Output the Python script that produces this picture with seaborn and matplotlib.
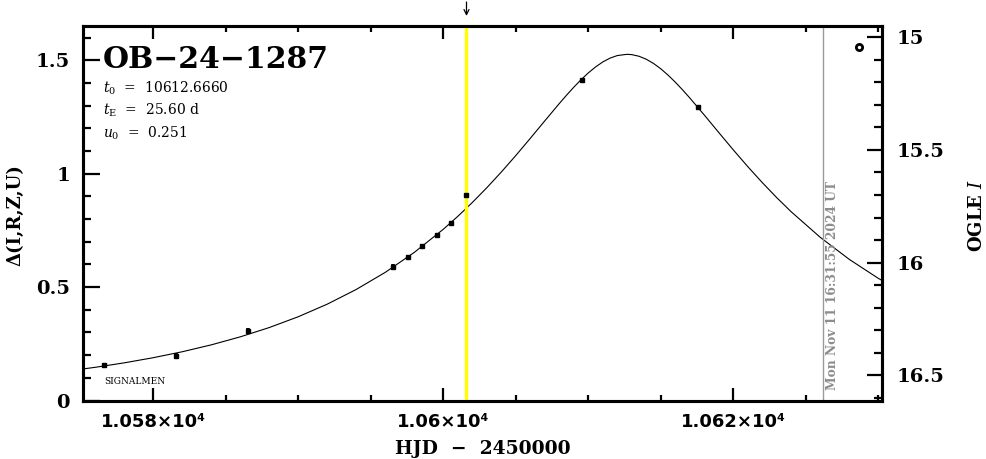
import matplotlib
matplotlib.use('Agg')
import matplotlib.pyplot as plt
import matplotlib.transforms as mtransforms
from matplotlib.ticker import MultipleLocator, FuncFormatter
import seaborn as sns

# ── Data ──────────────────────────────────────────────────────────────────────
EVENT     = "OB−24−1287"
T0_TEXT   = "10612.6660"
TE_TEXT   = "25.60 d"
U0_TEXT   = "0.251"
DATE_TEXT = "Mon Nov 11 16:31:55 2024 UT"

# model light curve (HJD - 2450000, delta mag)
model_hjd = [10574, 10576, 10578, 10580, 10582, 10584, 10586, 10588, 10590,
             10592, 10594, 10596, 10598, 10600, 10601, 10602, 10603, 10604,
             10605, 10606, 10607, 10608, 10608.5, 10609, 10609.5, 10610,
             10610.5, 10611, 10611.5, 10612, 10612.67, 10613, 10613.5, 10614,
             10614.5, 10615, 10615.5, 10616, 10616.5, 10617, 10618, 10619,
             10620, 10621, 10622, 10623, 10624, 10626, 10628, 10630, 10632]
model_delta = [0.1293, 0.1463, 0.1660, 0.1887, 0.2149, 0.2453, 0.2806, 0.3216,
               0.3693, 0.4248, 0.4896, 0.5650, 0.6528, 0.7548, 0.8117, 0.8727,
               0.9378, 1.0070, 1.0798, 1.1556, 1.2327, 1.3090, 1.3458, 1.3810,
               1.4140, 1.4440, 1.4702, 1.4924, 1.5092, 1.5205, 1.5260, 1.5246,
               1.5174, 1.5042, 1.4856, 1.4621, 1.4343, 1.4032, 1.3694, 1.3336,
               1.2583, 1.1811, 1.1047, 1.0308, 0.9604, 0.8939, 0.8315, 0.7191,
               0.6220, 0.5385, 0.4668]

# photometry
obs_hjd   = [10576.6, 10581.6, 10586.5, 10596.55, 10597.6, 10598.55,
             10599.6, 10600.55, 10601.57, 10609.55, 10617.59]
obs_delta = [0.155, 0.197, 0.305, 0.589, 0.632, 0.679, 0.728, 0.782,
             0.907, 1.412, 1.292]
obs_err   = [0.012, 0.012, 0.014, 0.014, 0.010, 0.010, 0.009, 0.007,
             0.005, 0.005, 0.004]

ogle_hjd, ogle_delta = [10628.66], [1.560]

now_hjd = 10601.6      # yellow line / arrow
date_hjd = 10626.2     # gray line

XLIM  = (10575.12, 10630.26)
YLIM  = (0.0, 1.653)
Y2LIM = (16.613, 14.947)

# ── Style ─────────────────────────────────────────────────────────────────────
sns.set_style('ticks')
plt.rcParams['font.family'] = ['DejaVu Serif']
plt.rcParams['mathtext.fontset'] = 'dejavuserif'
for k in ('text.color', 'axes.labelcolor', 'xtick.color', 'ytick.color',
          'axes.edgecolor'):
    plt.rcParams[k] = 'black'

fig = plt.figure(figsize=(9.86, 4.59), dpi=100)
ax = fig.add_axes([0.0837, 0.12745, 0.8109, 0.81699])
ax2 = ax.twinx()

# curve
sns.lineplot(x=model_hjd, y=model_delta, ax=ax, color='black', lw=0.8,
             zorder=2, legend=False)

ax.axvline(now_hjd, color='#ffff00', lw=2.4, zorder=3)
ax.axvline(date_hjd, color='#9a9a9a', lw=1.0, zorder=3)

ax.errorbar(obs_hjd, obs_delta, yerr=obs_err, fmt='s', ms=3.2, color='black',
            elinewidth=2.6, capsize=0, zorder=5)
ax.plot(ogle_hjd, ogle_delta, 'o', ms=4.5, mfc='white', mec='black', mew=2,
        zorder=5)

ax.set_xlim(*XLIM)
ax.set_ylim(*YLIM)
ax2.set_ylim(*Y2LIM)

# ticks
ax.xaxis.set_major_locator(MultipleLocator(20))
ax.xaxis.set_minor_locator(MultipleLocator(5))
ax.yaxis.set_major_locator(MultipleLocator(0.5))
ax.yaxis.set_minor_locator(MultipleLocator(0.1))
ax2.yaxis.set_major_locator(MultipleLocator(0.5))
ax2.yaxis.set_minor_locator(MultipleLocator(0.1))

def sci_fmt(v, pos):
    m = f"{v / 1e4:.4f}".rstrip('0').rstrip('.')
    return f"{m}×10⁴"

ax.xaxis.set_major_formatter(FuncFormatter(sci_fmt))
ax.yaxis.set_major_formatter(FuncFormatter(lambda v, p: f"{v:g}"))
ax2.yaxis.set_major_formatter(FuncFormatter(lambda v, p: f"{v:g}"))

ax.tick_params(axis='x', which='both', direction='in', top=True, bottom=True,
               width=1.6, color='black', labelcolor='black')
ax.tick_params(axis='x', which='major', length=9.5, pad=9, labelsize=13)
ax.tick_params(axis='x', which='minor', length=4.5)
ax.tick_params(axis='y', which='both', direction='in', left=True, right=False,
               width=1.6, color='black', labelcolor='black')
ax.tick_params(axis='y', which='major', length=12, pad=9, labelsize=14)
ax.tick_params(axis='y', which='minor', length=6)
ax2.tick_params(axis='y', which='both', direction='in', right=True,
                width=1.6, color='black', labelcolor='black')
ax2.tick_params(axis='y', which='major', length=11, pad=10.5, labelsize=14)
ax2.tick_params(axis='y', which='minor', length=5.5)

for lab in ax.get_xticklabels():
    lab.set_fontfamily('DejaVu Sans')
    lab.set_fontweight('bold')
for lab in ax.get_yticklabels() + ax2.get_yticklabels():
    lab.set_fontweight('bold')

for a in (ax, ax2):
    for sp in a.spines.values():
        sp.set_linewidth(2.2)
        sp.set_color('black')

# texts
ax.text(0.0256, 0.8867, EVENT, transform=ax.transAxes, fontsize=21.5,
        fontweight='bold', va='baseline', ha='left')
ax.text(0.0256, 0.8208, r"$t_0$  =  " + T0_TEXT, transform=ax.transAxes,
        fontsize=10, va='baseline', ha='left')
ax.text(0.0256, 0.7613, r"$t_\mathrm{E}$  =  " + TE_TEXT, transform=ax.transAxes,
        fontsize=10, va='baseline', ha='left')
ax.text(0.0256, 0.7008, r"$u_0$  =  " + U0_TEXT, transform=ax.transAxes,
        fontsize=10, va='baseline', ha='left')
ax.text(0.027, 0.044, "SIGNALMEN", transform=ax.transAxes, fontsize=6.5,
        va='baseline', ha='left')

blend = mtransforms.blended_transform_factory(ax.transData, ax.transAxes)
ax.text(date_hjd + 0.2, 0.028, DATE_TEXT, transform=blend, rotation=90,
        color='#8c8c8c', fontsize=8.8, fontweight='bold', ha='left', va='bottom')

ax.annotate('', xy=(now_hjd, 1.018), xytext=(now_hjd, 1.07), xycoords=blend,
            textcoords=blend, annotation_clip=False,
            arrowprops=dict(arrowstyle='->', color='black', lw=0.9,
                            mutation_scale=9))

fig.text(15 / 986, 1 - 215 / 459, "Δ(I,R,Z,U)", rotation=90, fontsize=13,
         fontweight='bold', ha='center', va='center')
fig.text(977 / 986, 1 - 215 / 459, r"OGLE $I$", rotation=90, fontsize=13,
         fontweight='bold', ha='center', va='center')
fig.text(483 / 986, 1 - 449 / 459, "HJD  −  2450000", fontsize=13.5,
         fontweight='bold', ha='center', va='center')

fig.savefig('out.png', dpi=100)
